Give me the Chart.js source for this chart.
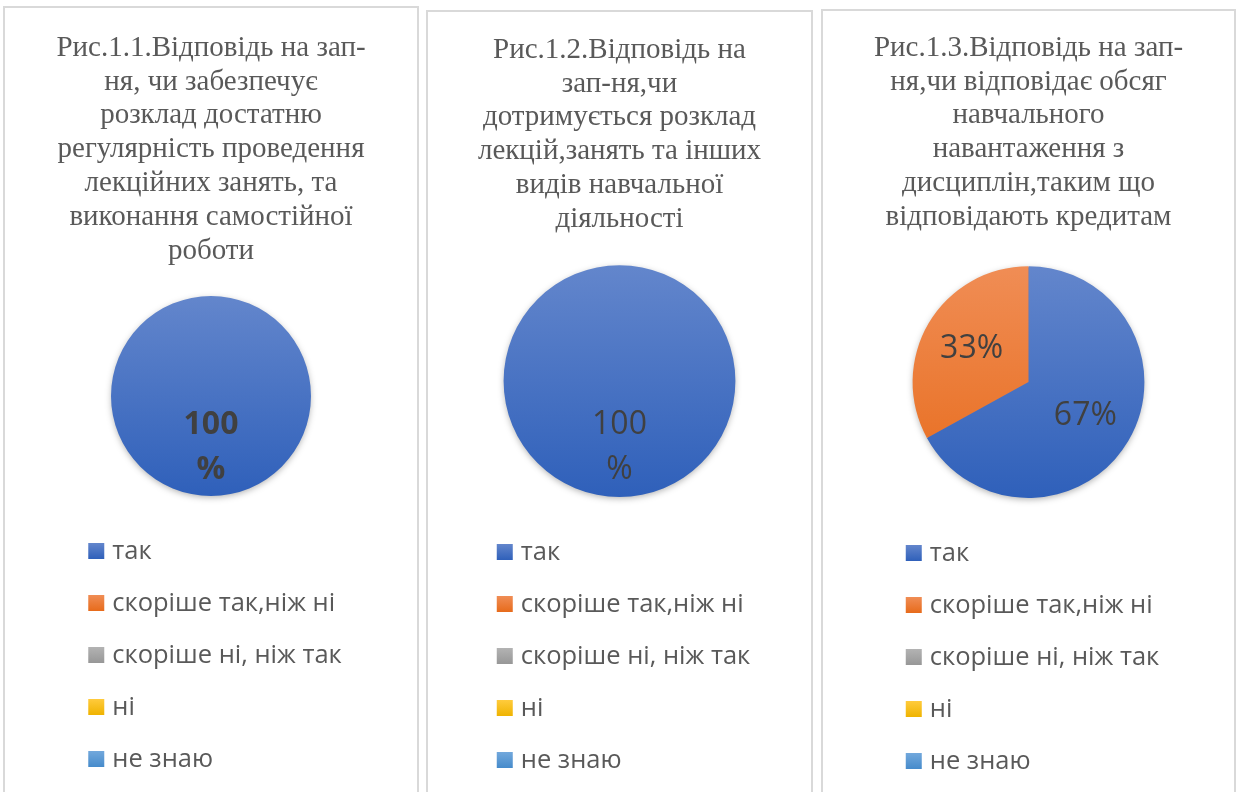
<!DOCTYPE html>
<html>
<head>
<meta charset="utf-8">
<script src="https://cdn.jsdelivr.net/npm/chart.js@4/dist/chart.umd.min.js"></script>
<style>
  body { margin: 0; background: #fff; width: 1239px; height: 792px; overflow: hidden; position: relative; }
  .panel { position: absolute; border: 2px solid #d9d9d9; box-sizing: border-box; height: 820px; }
  .panel canvas { display: block; }
</style>
</head>
<body>
<div class="panel" style="left:3px; top:6px; width:416px;"><canvas id="pie1"></canvas></div>
<div class="panel" style="left:426px; top:10px; width:387px;"><canvas id="pie2"></canvas></div>
<div class="panel" style="left:821px; top:9px; width:415px;"><canvas id="pie3"></canvas></div>
<script>
const answers = ['так', 'скоріше так,ніж ні', 'скоріше ні, ніж так', 'ні', 'не знаю'];
const values1 = [100, 0, 0, 0, 0];
const values2 = [100, 0, 0, 0, 0];
const values3 = [67, 33, 0, 0, 0];

const title1 = ['Рис.1.1.Відповідь на зап-', 'ня, чи забезпечує', 'розклад достатню',
  'регулярність проведення', 'лекційних занять, та', 'виконання самостійної', 'роботи'];
const title2 = ['Рис.1.2.Відповідь на', 'зап-ня,чи', 'дотримується розклад',
  'лекцій,занять та інших', 'видів навчальної', 'діяльності'];
const title3 = ['Рис.1.3.Відповідь на зап-', 'ня,чи відповідає обсяг', 'навчального',
  'навантаження з', 'дисциплін,таким що', 'відповідають кредитам'];

const topColors = ['#6386cc', '#f08d55', '#b3b3b3', '#ffcb3d', '#72a8dc'];
const bottomColors = ['#2f60ba', '#e76b1b', '#979797', '#efb300', '#468bcb'];

const serif = '"Liberation Serif", "Times New Roman", serif';
const sans = '"Open Sans", sans-serif';

function gradientFill(ctx, top, bottom, i) {
  const g = ctx.createLinearGradient(0, top, 0, bottom);
  g.addColorStop(0, topColors[i]);
  g.addColorStop(1, bottomColors[i]);
  return g;
}

// soft shadow under the pie, drawn before the slices
const pieShadow = {
  id: 'pieShadow',
  beforeDatasetsDraw(chart) {
    const arc = chart.getDatasetMeta(0).data[0];
    const ctx = chart.ctx;
    ctx.save();
    ctx.shadowColor = 'rgba(0,0,0,0.35)';
    ctx.shadowBlur = 7;
    ctx.shadowOffsetY = 2;
    ctx.beginPath();
    ctx.arc(arc.x, arc.y, arc.outerRadius - 1, 0, Math.PI * 2);
    ctx.fillStyle = '#4a72c4';
    ctx.fill();
    ctx.restore();
  }
};

// percentage labels inside the slices
const sliceLabels = {
  id: 'sliceLabels',
  afterDatasetsDraw(chart, args, opts) {
    const ctx = chart.ctx;
    const data = chart.data.datasets[0].data;
    const total = data.reduce((a, b) => a + b, 0);
    chart.getDatasetMeta(0).data.forEach((arc, i) => {
      if (!data[i]) return;
      const pct = Math.round(data[i] / total * 100);
      const lines = pct === 100 ? ['100', '%'] : [pct + '%'];
      const mid = (arc.startAngle + arc.endAngle) / 2;
      const r = arc.outerRadius * opts.dist;
      const x = arc.x + Math.cos(mid) * r;
      const y = arc.y + Math.sin(mid) * r;
      ctx.save();
      ctx.font = opts.weight + ' 32px ' + sans;
      ctx.fillStyle = '#404040';
      ctx.textAlign = 'center';
      ctx.textBaseline = 'middle';
      lines.forEach((t, k) => {
        ctx.fillText(t, x, y + (k - (lines.length - 1) / 2) * 45);
      });
      ctx.restore();
    });
  }
};

// vertical legend under the pie
const listLegend = {
  id: 'listLegend',
  afterDraw(chart) {
    const ctx = chart.ctx;
    const ca = chart.chartArea;
    ctx.save();
    ctx.font = '25.5px ' + sans;
    const maxText = Math.max(...answers.map(a => ctx.measureText(a).width));
    const blockW = 16 + 8 + maxText;
    const left = (chart.width - blockW) / 2 + 4;
    answers.forEach((a, i) => {
      const cy = ca.bottom + 55 + i * 52;
      ctx.fillStyle = gradientFill(ctx, cy - 8, cy + 8, i);
      ctx.fillRect(left, cy - 8, 16, 16);
      ctx.fillStyle = '#595959';
      ctx.textBaseline = 'middle';
      ctx.textAlign = 'left';
      ctx.fillText(a, left + 24, cy + 1);
    });
    ctx.restore();
  }
};

function makePie(id, width, values, title, titlePad, bottomPad, weight, dist) {
  const canvas = document.getElementById(id);
  canvas.width = width;
  canvas.height = 790;
  canvas.style.width = width + 'px';
  canvas.style.height = '790px';
  return new Chart(canvas, {
    type: 'pie',
    data: {
      labels: answers,
      datasets: [{
        data: values,
        borderWidth: 0,
        backgroundColor: function (c) {
          const ca = c.chart.chartArea;
          if (!ca) return topColors[c.dataIndex];
          return gradientFill(c.chart.ctx, ca.top, ca.bottom, c.dataIndex);
        }
      }]
    },
    options: {
      responsive: false,
      animation: false,
      layout: { padding: { bottom: bottomPad } },
      plugins: {
        legend: { display: false },
        tooltip: { enabled: false },
        title: {
          display: true,
          text: title,
          color: '#595959',
          font: { family: serif, size: 29, weight: 'normal', lineHeight: 1.17 },
          padding: titlePad
        },
        sliceLabels: { weight: weight, dist: dist }
      }
    },
    plugins: [pieShadow, sliceLabels, listLegend]
  });
}

Promise.all([
  document.fonts.load('29px "Liberation Serif"', 'Рис.Відповідь'),
  document.fonts.load('25px "Open Sans"', 'так ні'),
  document.fonts.load('bold 32px "Open Sans"', '100%')
]).catch(() => {}).then(() => {
  makePie('pie1', 412, values1, title1, { top: 23, bottom: 27.5 }, 302, 'bold', 0.51);
  makePie('pie2', 383, values2, title2, { top: 21, bottom: 28.6 }, 305, 'normal', 0.57);
  makePie('pie3', 411, values3, title3, { top: 20, bottom: 31.6 }, 303, 'normal', 0.57);
});
</script>
</body>
</html>
